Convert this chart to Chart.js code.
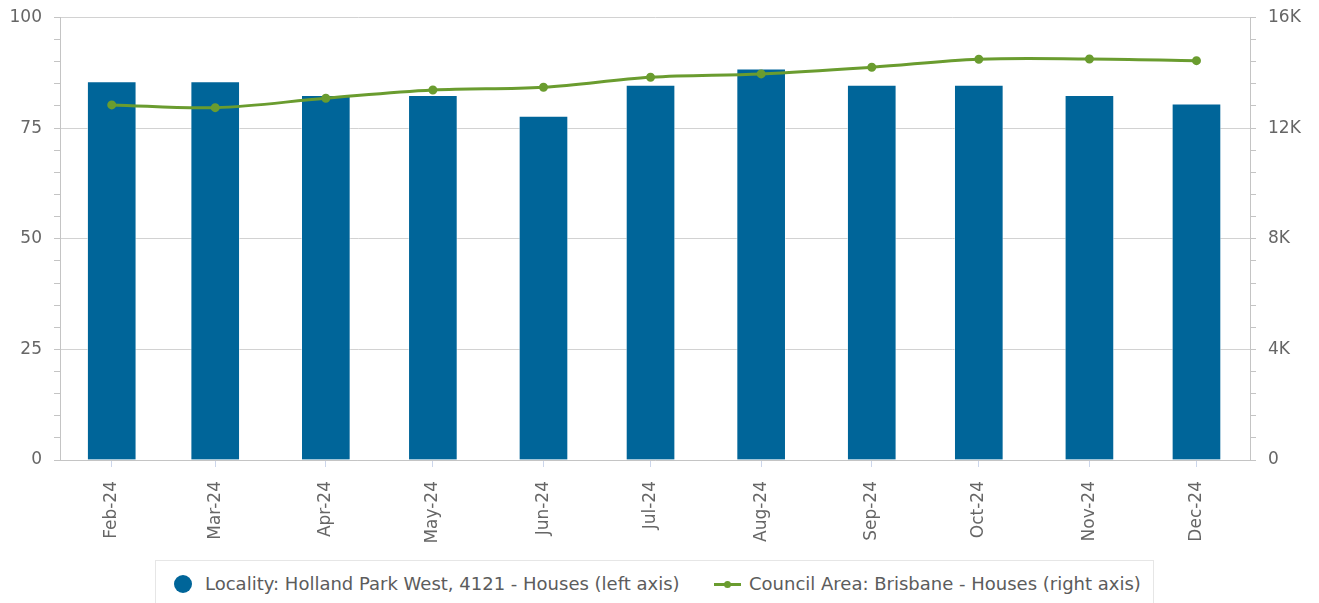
<!DOCTYPE html>
<html>
<head>
<meta charset="utf-8">
<script src="https://cdn.jsdelivr.net/npm/chart.js@4.4.1/dist/chart.umd.min.js"></script>
<style>
  body { margin: 0; background: #fff; font-family: "DejaVu Sans", sans-serif; }
  #wrap { position: relative; width: 1319px; height: 603px; overflow: hidden; }
  #legend {
    position: absolute; left: 155px; top: 560px; width: 999px; height: 60px;
    border: 1px solid #e6e6e6; box-sizing: border-box; background: #fff;
    font-size: 18px; color: #5c5c5c;
  }
  #legend .item { position: absolute; top: 11px; white-space: nowrap; line-height: 24px; }
  .dot { position: absolute; width: 18px; height: 18px; border-radius: 50%; background: #006599; top: 3px; left: 0; }
  .ln { position: absolute; width: 27px; height: 3px; background: #6a9c2f; top: 11px; left: 0; }
  .ln::after { content: ""; position: absolute; left: 10px; top: -2px; width: 7px; height: 7px; border-radius: 50%; background: #6a9c2f; }
</style>
</head>
<body>
<div id="wrap">
  <canvas id="chart" width="1319" height="603"></canvas>
  <div id="legend">
    <div class="item" style="left:18px"><span class="dot"></span><span style="margin-left:31px">Locality: Holland Park West, 4121 - Houses (left axis)</span></div>
    <div class="item" style="left:558px"><span class="ln"></span><span style="margin-left:35px">Council Area: Brisbane - Houses (right axis)</span></div>
  </div>
</div>
<script>
// months shown on the x axis
const months = ['Feb-24', 'Mar-24', 'Apr-24', 'May-24', 'Jun-24', 'Jul-24',
                'Aug-24', 'Sep-24', 'Oct-24', 'Nov-24', 'Dec-24'];
// locality houses (left axis)
const localityValues = [85.5, 85.5, 82.4, 82.4, 77.7, 84.7, 88.4, 84.7, 84.7, 82.4, 80.5];
// council area houses (right axis)
const councilValues = [12840, 12740, 13080, 13380, 13480, 13840, 13960, 14200, 14490, 14500, 14440];
const leftTicks = [0, 25, 50, 75, 100];
const rightTicks = [0, 4000, 8000, 12000, 16000];

// x position = days since 1 Feb 2024 (time axis, months are not evenly spaced)
const monthIdx = { Jan: 0, Feb: 1, Mar: 2, Apr: 3, May: 4, Jun: 5, Jul: 6, Aug: 7, Sep: 8, Oct: 9, Nov: 10, Dec: 11 };
const base = Date.UTC(2024, 1, 1);
const xs = months.map(m => {
    const [mon, yy] = m.split('-');
    return (Date.UTC(2000 + parseInt(yy), monthIdx[mon], 1) - base) / 86400000;
});

const GRID = '#d2d2d2';
const AXIS = '#c4c4c4';
const LABEL = '#666666';

// fixed side widths, no extra label overflow padding
function fitSide(w) {
    return scale => {
        scale.width = w;
        scale.paddingTop = 0;
        scale.paddingBottom = 0;
    };
}

new Chart('chart', {
    type: 'bar',
    data: {
        datasets: [{
            type: 'line',
            label: 'Council Area: Brisbane - Houses (right axis)',
            data: xs.map((x, i) => ({ x: x, y: councilValues[i] })),
            yAxisID: 'y1',
            borderColor: '#6a9c2f',
            backgroundColor: '#6a9c2f',
            borderWidth: 3,
            pointRadius: 3,
            tension: 0.35,
            fill: false,
            order: 0
        }, {
            label: 'Locality: Holland Park West, 4121 - Houses (left axis)',
            data: xs.map((x, i) => ({ x: x, y: localityValues[i] })),
            yAxisID: 'y',
            backgroundColor: '#006599',
            borderColor: 'rgba(255,255,255,0.45)',
            borderWidth: 1,
            barThickness: 49,
            order: 1
        }]
    },
    options: {
        responsive: false,
        animation: false,
        layout: { padding: { top: 17.5, bottom: 58, left: 0, right: 0 } },
        plugins: { legend: { display: false }, tooltip: { enabled: false } },
        scales: {
            x: {
                type: 'linear',
                min: -14.5,
                max: 319,
                offset: false,
                afterBuildTicks: scale => { scale.ticks = xs.map(v => ({ value: v })); },
                afterFit: scale => { scale.height = 85; },
                grid: { drawOnChartArea: false, offset: false, tickLength: 7, tickColor: '#ccd6eb' },
                border: { color: AXIS },
                ticks: {
                    autoSkip: false,
                    minRotation: 90,
                    maxRotation: 90,
                    padding: 14,
                    color: LABEL,
                    font: { family: 'DejaVu Sans', size: 17 },
                    callback: (v, i) => months[i]
                }
            },
            y: {
                position: 'left',
                min: 0,
                max: 100,
                afterFit: fitSide(60),
                grid: {
                    color: ctx => leftTicks.includes(ctx.tick.value) ? GRID : 'rgba(0,0,0,0)',
                    tickColor: AXIS,
                    tickLength: 6
                },
                border: { color: AXIS },
                ticks: {
                    stepSize: 5,
                    autoSkip: false,
                    padding: 12,
                    color: LABEL,
                    font: { family: 'DejaVu Sans', size: 17 },
                    callback: v => leftTicks.includes(v) ? String(v) : ''
                }
            },
            y1: {
                position: 'right',
                min: 0,
                max: 16000,
                afterFit: fitSide(69),
                grid: { drawOnChartArea: false, tickColor: AXIS, tickLength: 6 },
                border: { color: AXIS },
                ticks: {
                    stepSize: 800,
                    autoSkip: false,
                    padding: 12,
                    color: LABEL,
                    font: { family: 'DejaVu Sans', size: 17 },
                    callback: v => rightTicks.includes(v) ? (v === 0 ? '0' : (v / 1000) + 'K') : ''
                }
            }
        }
    }
});
</script>
</body>
</html>
